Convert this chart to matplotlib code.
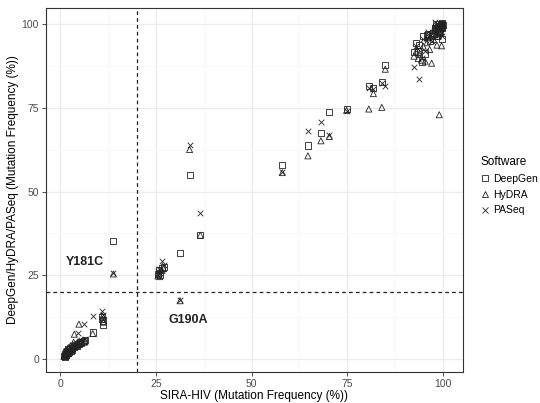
import matplotlib
matplotlib.use("Agg")
import matplotlib.pyplot as plt
from matplotlib.lines import Line2D
from matplotlib.ticker import MultipleLocator

plt.rcParams["font.family"] = ["Liberation Sans", "DejaVu Sans"]

# one row per mutation: SIRA-HIV frequency and what each tool reported
sira = [1.0, 1.2, 1.3, 1.5, 1.6, 1.8, 2.0, 2.1, 2.3, 2.5, 2.7, 3.0, 3.2, 3.5,
        3.7, 4.7, 4.0, 4.3, 4.9, 5.2, 5.5, 6.3, 6.5, 8.5, 11.0, 11.3, 11.1, 13.9,
        25.5, 25.8, 26.0, 26.6, 27.0, 31.3, 33.8, 36.6,
        58.0, 64.7, 68.1, 70.3, 74.8, 80.6, 81.8, 84.0, 84.9,
        92.4, 93.8, 94.4, 95.3, 97.0, 99.0,
        93.0, 93.5, 94.8, 95.8, 96.5, 97.5, 98.0, 98.4, 98.6, 98.8, 99.0,
        99.2, 99.4, 99.5, 99.6, 99.7, 99.8, 99.9, 97.8, 98.2, 96.0]
deepgen = [1.0, 1.5, 0.6, 2.0, 1.2, 2.4, 1.8, 2.9, 2.2, 3.0, 2.5, 3.4, 2.8, 3.8,
           3.6, 4.5, 4.2, 4.0, 4.6, 5.0, 4.8, 5.5, 5.7, 7.9, 12.6, 10.2, 11.5, 35.3,
           25.3, 26.5, 25.0, 27.3, 27.6, 31.7, 55.1, 37.0,
           57.9, 63.8, 67.6, 73.7, 74.7, 81.5, 81.1, 82.9, 88.0,
           91.8, 93.8, 88.8, 91.3, 96.5, 97.5,
           94.3, 91.9, 96.4, 96.8, 95.0, 97.5, 98.5, 96.4, 99.0, 98.0, 99.5,
           97.8, 100.0, 99.2, 95.5, 100.3, 98.8, 99.7, 99.0, 100.2, 97.0]
hydra = [0.8, 1.3, 0.9, 1.7, 1.4, 2.8, 1.5, 3.4, 2.0, 2.6, 4.0, 3.0, 3.3, 5.0,
         7.4, 4.2, 3.8, 4.6, 10.4, 4.8, 5.2, 5.0, 5.3, 7.6, 11.8, 11.0, 12.8, 25.4,
         24.8, 25.5, 24.6, 26.5, 27.0, 17.4, 62.6, 37.0,
         55.7, 60.7, 65.2, 66.5, 74.3, 74.7, 79.3, 75.2, 86.6,
         90.5, 91.0, 89.3, 89.0, 88.4, 73.0,
         92.0, 89.8, 93.5, 94.5, 92.5, 95.5, 97.0, 93.8, 98.5, 96.5, 99.0,
         97.5, 99.6, 98.8, 93.6, 100.0, 99.3, 100.2, 98.0, 99.5, 96.0]
paseq = [1.2, 1.8, 0.7, 2.3, 1.0, 2.2, 2.0, 2.7, 2.6, 3.3, 2.8, 3.6, 3.1, 4.0,
         4.0, 7.7, 4.5, 4.2, 5.0, 5.3, 5.6, 10.4, 5.9, 12.8, 14.3, 12.0, 13.0, 25.6,
         26.2, 27.0, 25.8, 29.3, 28.0, 17.6, 63.9, 43.7,
         56.0, 68.1, 70.8, 67.0, 74.0, 81.0, 80.8, 82.5, 81.5,
         87.3, 83.6, 90.0, 92.0, 95.0, 98.0,
         93.5, 92.5, 95.5, 96.0, 96.5, 98.0, 99.0, 97.5, 99.5, 100.0, 99.2,
         98.5, 100.2, 99.8, 96.5, 100.5, 99.0, 99.9, 100.8, 99.3, 97.8]

software = ["DeepGen", "HyDRA", "PASeq"]
markers = {"DeepGen": "s", "HyDRA": "^", "PASeq": "x"}
cutoff = 20

fig = plt.figure(figsize=(5.4, 4.03), dpi=100)
ax = fig.add_axes([46 / 540, 31 / 403, 417 / 540, 364 / 403])

for name, vals in zip(software, [deepgen, hydra, paseq]):
    if markers[name] == "x":
        ax.scatter(sira, vals, marker="x", s=16, c="#222222", linewidths=0.6, zorder=3)
    else:
        ax.scatter(sira, vals, marker=markers[name], s=19, facecolors="none",
                   edgecolors="#222222", linewidths=0.6, zorder=3)

ax.axvline(cutoff, color="#222222", lw=0.9, ls=(0, (3, 2.5)), zorder=2)
ax.axhline(cutoff, color="#222222", lw=0.9, ls=(0, (3, 2.5)), zorder=2)

ax.text(6.5, 29, "Y181C", fontsize=9, fontweight="bold", color="#222222",
        ha="center", va="center")
ax.text(33.5, 11.5, "G190A", fontsize=9, fontweight="bold", color="#222222",
        ha="center", va="center")

ax.set_xlim(-3.7, 105.2)
ax.set_ylim(-3.9, 104.9)
ax.xaxis.set_major_locator(MultipleLocator(25))
ax.yaxis.set_major_locator(MultipleLocator(25))
ax.xaxis.set_minor_locator(MultipleLocator(12.5))
ax.yaxis.set_minor_locator(MultipleLocator(12.5))
ax.grid(which="major", color="#EBEBEB", lw=0.9, zorder=0)
ax.grid(which="minor", color="#F4F4F4", lw=0.5, zorder=0)
ax.set_axisbelow(True)
ax.tick_params(which="major", length=3, width=0.6, color="#333333",
               labelsize=7.5, labelcolor="#4D4D4D", pad=2)
ax.tick_params(which="minor", length=0)
for sp in ax.spines.values():
    sp.set_color("#333333")
    sp.set_linewidth(0.8)

ax.set_xlabel("SIRA-HIV (Mutation Frequency (%))", fontsize=8.5, labelpad=1)
ax.set_ylabel("DeepGen/HyDRA/PASeq (Mutation Frequency (%))", fontsize=8.5, labelpad=2)

handles = []
for name in software:
    if markers[name] == "x":
        h = Line2D([], [], marker="x", ls="none", color="#222222", markersize=4,
                   markeredgewidth=0.6)
    else:
        h = Line2D([], [], marker=markers[name], ls="none", markerfacecolor="none",
                   markeredgecolor="#222222", markersize=4, markeredgewidth=0.6)
    handles.append(h)
leg = ax.legend(handles, software, title="Software", loc="upper left",
                bbox_to_anchor=(476 / 540, (403 - 152) / 403),
                bbox_transform=fig.transFigure, frameon=False, fontsize=7.5,
                title_fontsize=8.5, handlelength=1.0, handletextpad=0.2,
                labelspacing=0.55, borderaxespad=0)
leg._legend_box.align = "left"

fig.savefig("out.png", dpi=100)
